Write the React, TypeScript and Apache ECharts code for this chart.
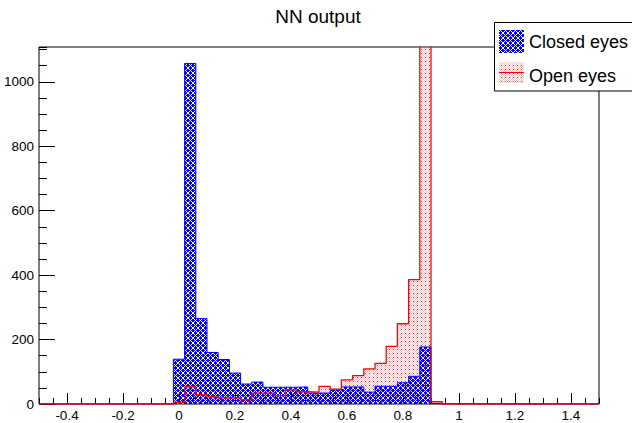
import React, { useEffect, useRef } from "react";
import * as echarts from "echarts";

const TITLE = "NN output";
const SERIES_NAMES = ["Closed eyes", "Open eyes"];
const X_MIN = -0.5;
const X_MAX = 1.5;
const BIN_WIDTH = 0.04;
const Y_MAX = 1108;

const binCenters = [
  0.0, 0.04, 0.08, 0.12, 0.16, 0.2, 0.24, 0.28, 0.32, 0.36, 0.4, 0.44,
  0.48, 0.52, 0.56, 0.6, 0.64, 0.68, 0.72, 0.76, 0.8, 0.84, 0.88, 0.92,
];
const closedEyes = [
  139, 1057, 265, 160, 138, 96, 62, 68, 52, 52, 52, 53,
  34, 34, 44, 53, 53, 37, 55, 55, 66, 86, 177, 1,
];
const openEyes = [
  5, 53, 29, 22, 19, 20, 13, 34, 34, 26, 44, 38,
  37, 55, 46, 75, 88, 109, 126, 179, 249, 386, 1500, 7,
];

const xTickValues = [-0.4, -0.2, 0, 0.2, 0.4, 0.6, 0.8, 1, 1.2, 1.4];
const yTickValues = [0, 200, 400, 600, 800, 1000];

const FONT = "'Liberation Sans', Arial, Helvetica, sans-serif";

function stepPoints(values: number[]) {
  const pts: number[][] = [[X_MIN, 0]];
  binCenters.forEach((c, i) => pts.push([c - BIN_WIDTH / 2, values[i]]));
  pts.push([binCenters[binCenters.length - 1] + BIN_WIDTH / 2, 0]);
  pts.push([X_MAX, 0]);
  return pts;
}

function makeTile(w: number, h: number, pix: (x: number, y: number) => string | null) {
  const c = document.createElement("canvas");
  c.width = w;
  c.height = h;
  const ctx = c.getContext("2d")!;
  for (let y = 0; y < h; y++) {
    for (let x = 0; x < w; x++) {
      const col = pix(x, y);
      if (col) {
        ctx.fillStyle = col;
        ctx.fillRect(x, y, 1, 1);
      }
    }
  }
  return c;
}

export default function App() {
  const ref = useRef<HTMLDivElement>(null);
  useEffect(() => {
    if (!ref.current) return;
    const chart = echarts.init(ref.current, null, { renderer: "svg" });

    const blueTile = makeTile(5, 5, (x, y) =>
      (x + y) % 5 === 0 || (x - y + 5) % 5 === 0 ? null : "#0000ff"
    );
    const redTile = makeTile(4, 4, (x, y) => {
      if (x === 1 && y === 1) return "rgba(255,0,0,0.9)";
      if ((x + y) % 2 === 0) return "rgba(255,120,120,0.42)";
      return null;
    });
    const bluePattern: any = { image: blueTile, repeat: "repeat", imageWidth: 5, imageHeight: 5 };
    const redPattern: any = { image: redTile, repeat: "repeat", imageWidth: 4, imageHeight: 4 };

    const fmt = (v: number) => String(parseFloat(Number(v).toFixed(2)));

    chart.setOption({
      animation: false,
      grid: {
        left: 39,
        top: 47,
        width: 560,
        height: 357,
        show: true,
        borderColor: "#000",
        borderWidth: 1,
        backgroundColor: "transparent",
        containLabel: false,
        outerBoundsMode: "none",
      },
      xAxis: [
        {
          type: "value",
          min: X_MIN,
          max: X_MAX,
          interval: 0.5,
          position: "bottom",
          axisLine: { show: false, onZero: false },
          splitLine: { show: false },
          axisTick: {
            show: true,
            inside: true,
            length: 11,
            customValues: xTickValues,
            lineStyle: { color: "#000", width: 1 },
          },
          axisLabel: {
            customValues: xTickValues,
            formatter: fmt,
            fontSize: 13.5,
            color: "#000",
            fontFamily: FONT,
            margin: 4,
          },
        },
        {
          type: "value",
          min: X_MIN,
          max: X_MAX,
          interval: 0.05,
          position: "bottom",
          axisLine: { show: false, onZero: false },
          splitLine: { show: false },
          axisTick: { show: true, inside: true, length: 6, lineStyle: { color: "#000", width: 1 } },
          axisLabel: { show: false },
        },
      ],
      yAxis: [
        {
          type: "value",
          min: 0,
          max: Y_MAX,
          interval: 200,
          position: "left",
          axisLine: { show: false, onZero: false },
          splitLine: { show: false },
          axisTick: {
            show: true,
            inside: true,
            length: 16,
            customValues: yTickValues,
            lineStyle: { color: "#000", width: 1 },
          },
          axisLabel: {
            customValues: yTickValues,
            formatter: (v: number) => String(v),
            fontSize: 13.5,
            color: "#000",
            fontFamily: FONT,
            margin: 5,
          },
        },
        {
          type: "value",
          min: 0,
          max: Y_MAX,
          interval: 50,
          position: "left",
          axisLine: { show: false, onZero: false },
          splitLine: { show: false },
          axisTick: { show: true, inside: true, length: 8, lineStyle: { color: "#000", width: 1 } },
          axisLabel: { show: false },
        },
      ],
      series: [
        {
          type: "line",
          name: SERIES_NAMES[1] + " fill",
          data: stepPoints(openEyes),
          step: "end",
          showSymbol: false,
          symbol: "none",
          silent: true,
          clip: true,
          z: 1,
          lineStyle: { width: 0, opacity: 0 },
          areaStyle: { color: redPattern, opacity: 1 },
        },
        {
          type: "line",
          name: SERIES_NAMES[0],
          data: stepPoints(closedEyes),
          step: "end",
          showSymbol: false,
          symbol: "none",
          silent: true,
          clip: true,
          z: 2,
          lineStyle: { color: "#0000ff", width: 1 },
          areaStyle: { color: bluePattern, opacity: 1 },
        },
        {
          type: "line",
          name: SERIES_NAMES[1],
          data: stepPoints(openEyes),
          step: "end",
          showSymbol: false,
          symbol: "none",
          silent: true,
          clip: true,
          z: 3,
          lineStyle: { color: "#ff0000", width: 1.3 },
        },
      ],
      graphic: [
        {
          type: "text",
          x: 318,
          y: 16,
          z: 100,
          style: {
            text: TITLE,
            fontSize: 19,
            fontFamily: FONT,
            fill: "#000",
            align: "center",
            verticalAlign: "middle",
          },
        },
        {
          type: "group",
          z: 100,
          children: [
            {
              type: "rect",
              z: 100,
              shape: { x: 494.5, y: 22.5, width: 150, height: 68.5 },
              style: { fill: "#fff", stroke: "#000", lineWidth: 1 },
            },
            {
              type: "rect",
              z: 101,
              shape: { x: 499, y: 30, width: 25, height: 23 },
              style: { fill: bluePattern },
            },
            {
              type: "text",
              z: 101,
              x: 529,
              y: 42,
              style: {
                text: SERIES_NAMES[0],
                fontSize: 18,
                fontFamily: FONT,
                fill: "#000",
                verticalAlign: "middle",
              },
            },
            {
              type: "rect",
              z: 101,
              shape: { x: 499, y: 62, width: 25, height: 21 },
              style: { fill: redPattern },
            },
            {
              type: "line",
              z: 102,
              shape: { x1: 499, y1: 72.5, x2: 524, y2: 72.5 },
              style: { stroke: "#ff0000", lineWidth: 1 },
            },
            {
              type: "text",
              z: 101,
              x: 529,
              y: 75.5,
              style: {
                text: SERIES_NAMES[1],
                fontSize: 18,
                fontFamily: FONT,
                fill: "#000",
                verticalAlign: "middle",
              },
            },
          ],
        },
      ],
    });
    return () => chart.dispose();
  }, []);
  return (
    <div
      ref={ref}
      style={{ position: "fixed", left: 0, top: 0, width: 632, height: 423, background: "#fff" }}
    />
  );
}
